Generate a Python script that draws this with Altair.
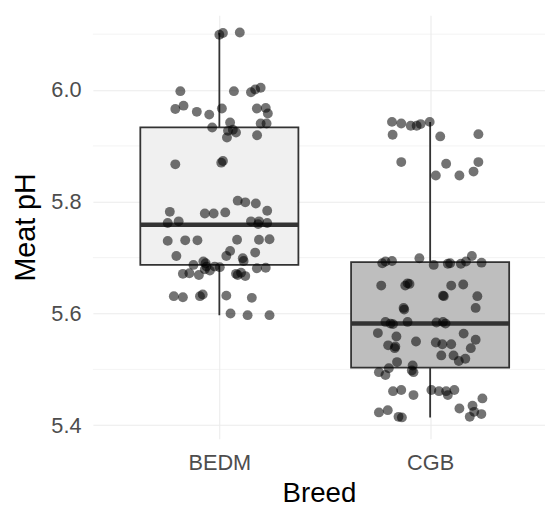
import altair as alt
import pandas as pd

# ---- data ----
categories = ["BEDM", "CGB"]
box_fill = ["#f0f0f0", "#bebebe"]
q1 = [5.687, 5.503]
median = [5.759, 5.582]
q3 = [5.933, 5.692]
whisk_lo = [5.597, 5.414]
whisk_hi = [6.102, 5.943]

bedm_offset = [0.000, 0.017, 0.097, -0.185, 0.069, 0.150, 0.170, 0.196, -0.209, -0.170,
               -0.107, -0.048, 0.012, 0.178, 0.220, 0.230, 0.051, 0.196, 0.224, -0.034,
               0.041, 0.079, 0.036, 0.064, 0.179,
               -0.209, 0.009, 0.017, 0.087, 0.123, 0.173, 0.227, -0.235, -0.069, -0.027,
               0.028, -0.245, -0.193, 0.150, 0.184, 0.188, 0.227, -0.245, -0.162, -0.104,
               0.084, 0.188, 0.238, -0.204, 0.051, 0.033, 0.170, 0.111, 0.115, -0.123,
               -0.076, -0.065, -0.061, -0.022, 0.002, -0.173, -0.142, -0.097, -0.069, -0.045,
               0.087, 0.103, 0.123, 0.079, 0.178, 0.220, -0.216, -0.173, -0.092, -0.079,
               0.033, 0.154, 0.053, 0.134, 0.238]
bedm_ph = [6.099, 6.102, 6.103, 5.998, 5.998, 5.996, 6.001, 6.004, 5.966, 5.972,
           5.961, 5.956, 5.967, 5.967, 5.968, 5.958, 5.942, 5.940, 5.940, 5.933,
           5.927, 5.924, 5.915, 5.929, 5.919,
           5.867, 5.870, 5.873, 5.802, 5.799, 5.797, 5.784, 5.782, 5.779, 5.779,
           5.781, 5.762, 5.765, 5.765, 5.760, 5.765, 5.762, 5.730, 5.731, 5.731,
           5.732, 5.732, 5.733, 5.703, 5.712, 5.703, 5.709, 5.699, 5.694, 5.687,
           5.693, 5.690, 5.684, 5.684, 5.683, 5.671, 5.672, 5.669, 5.679, 5.677,
           5.669, 5.673, 5.667, 5.671, 5.681, 5.682, 5.631, 5.629, 5.631, 5.634,
           5.632, 5.628, 5.600, 5.597, 5.597]

cgb_offset = [-0.181, -0.137, -0.092, -0.064, -0.045, -0.002, -0.178, 0.048, 0.229, -0.137,
              0.076, 0.229, 0.027, 0.139, 0.206,
              -0.227, -0.212, -0.181, -0.051, 0.017, 0.084, 0.095, 0.146, 0.170, 0.198,
              0.244, -0.232, -0.118, -0.107, -0.098, 0.100, 0.157, 0.061, 0.065, 0.224,
              0.216, -0.126, -0.123, -0.212, -0.188, -0.176, -0.107, 0.030, 0.061, 0.073,
              -0.248, -0.160, -0.199, -0.165, -0.168, -0.067, 0.027, 0.058, 0.100, 0.159,
              0.216, 0.193, 0.053, 0.111, 0.136, 0.167, -0.157, -0.196, -0.243, -0.212,
              -0.083, -0.087, -0.079, -0.176, -0.137, -0.079, 0.006, 0.042, 0.076, 0.084,
              0.115, 0.248, -0.243, -0.201, -0.150, -0.134, 0.139, 0.201, 0.209, 0.188,
              0.243]
cgb_ph = [5.943, 5.940, 5.936, 5.936, 5.939, 5.943, 5.920, 5.917, 5.921, 5.871,
          5.868, 5.871, 5.847, 5.847, 5.854,
          5.690, 5.693, 5.694, 5.699, 5.687, 5.689, 5.690, 5.689, 5.693, 5.703,
          5.691, 5.650, 5.650, 5.654, 5.653, 5.650, 5.652, 5.632, 5.631, 5.631,
          5.610, 5.610, 5.607, 5.585, 5.582, 5.581, 5.585, 5.584, 5.585, 5.582,
          5.565, 5.559, 5.543, 5.541, 5.538, 5.550, 5.548, 5.545, 5.545, 5.564,
          5.553, 5.538, 5.525, 5.525, 5.515, 5.519, 5.513, 5.502, 5.495, 5.490,
          5.507, 5.498, 5.495, 5.461, 5.463, 5.454, 5.463, 5.461, 5.461, 5.454,
          5.463, 5.448, 5.423, 5.427, 5.415, 5.414, 5.430, 5.435, 5.424, 5.415,
          5.420]

major_breaks = [5.4, 5.6, 5.8, 6.0]
minor_breaks = [5.5, 5.7, 5.9, 6.1]

# ---- tables built from the lists ----
pos = [i + 1 for i in range(len(categories))]
box_df = pd.DataFrame({
    "Breed": categories, "pos": pos,
    "left": [p - 0.375 for p in pos], "right": [p + 0.375 for p in pos],
    "q1": q1, "median": median, "q3": q3, "lo": whisk_lo, "hi": whisk_hi,
    "fill": box_fill,
})
pts = pd.DataFrame({
    "Breed": ["BEDM"] * len(bedm_ph) + ["CGB"] * len(cgb_ph),
    "x": [1 + o for o in bedm_offset] + [2 + o for o in cgb_offset],
    "pH": bedm_ph + cgb_ph,
})
minor_df = pd.DataFrame({"v": minor_breaks})

label_expr = "datum.value == 1 ? 'BEDM' : datum.value == 2 ? 'CGB' : ''"
x_scale = alt.Scale(domain=[0.4, 2.545], nice=False, zero=False)
y_scale = alt.Scale(domain=[5.376, 6.134], nice=False, zero=False)

x_axis = alt.Axis(title="Breed", values=[1, 2], labelExpr=label_expr, grid=True,
                  gridColor="#ebebeb", gridWidth=1.1, domain=False, ticks=False,
                  labelFontSize=22, labelColor="#4d4d4d", labelPadding=14,
                  titleFontSize=28, titleColor="#000000", titleFontWeight="normal",
                  titlePadding=7, labelFont="Liberation Sans", titleFont="Liberation Sans")
y_axis = alt.Axis(title="Meat pH", values=major_breaks, format=".1f", grid=True,
                  gridColor="#ebebeb", gridWidth=1.1, domain=False, ticks=False,
                  labelFontSize=22, labelColor="#4d4d4d", labelPadding=12,
                  titleFontSize=29, titleColor="#000000", titleFontWeight="normal",
                  titlePadding=11, labelFont="Liberation Sans", titleFont="Liberation Sans")

minor = alt.Chart(minor_df).mark_rule(color="#ebebeb", strokeWidth=0.6).encode(
    y=alt.Y("v:Q", scale=y_scale, axis=y_axis)
)

base = alt.Chart(box_df)
whisk = base.mark_rule(color="#333333", strokeWidth=1.8).encode(
    x=alt.X("pos:Q", scale=x_scale, axis=x_axis),
    y=alt.Y("lo:Q", scale=y_scale, axis=y_axis),
    y2="hi:Q",
)
box = base.mark_rect(stroke="#333333", strokeWidth=1.8).encode(
    x=alt.X("left:Q", scale=x_scale, axis=x_axis),
    x2="right:Q",
    y=alt.Y("q1:Q", scale=y_scale, axis=y_axis),
    y2="q3:Q",
    fill=alt.Fill("fill:N", scale=None, legend=None),
)
med = base.mark_rule(color="#333333", strokeWidth=4.5).encode(
    x=alt.X("left:Q", scale=x_scale, axis=x_axis),
    x2="right:Q",
    y=alt.Y("median:Q", scale=y_scale, axis=y_axis),
)
points = alt.Chart(pts).mark_circle(size=100, color="#000000", opacity=0.55).encode(
    x=alt.X("x:Q", scale=x_scale, axis=x_axis),
    y=alt.Y("pH:Q", scale=y_scale, axis=y_axis),
)

chart = alt.layer(minor, whisk, box, med, points).properties(
    width=458, height=429,
    background="#ffffff",
    autosize=alt.AutoSizeParams(type="none"),
    padding={"left": 86, "top": 4, "right": 0, "bottom": 68},
).configure_view(strokeWidth=0, stroke="transparent")

chart.save("out.html", embed_options={"renderer": "svg", "actions": False})
